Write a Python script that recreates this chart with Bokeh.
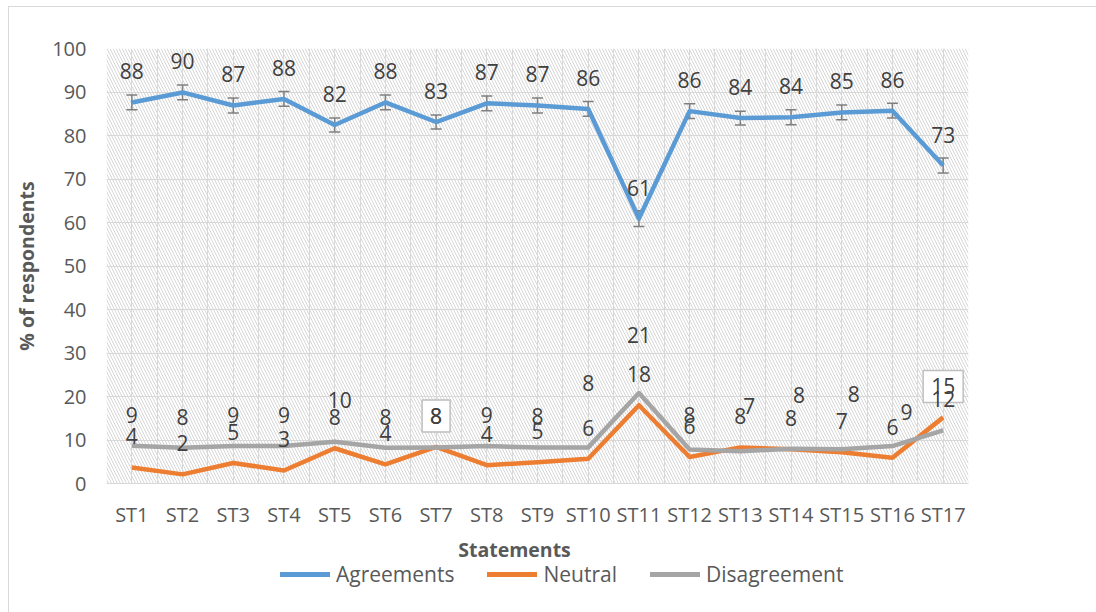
from bokeh.plotting import figure
from bokeh.layouts import column
from bokeh.models import (ColumnDataSource, Range1d, FixedTicker, Grid, Whisker, TeeHead,
                          BoxAnnotation, Legend, LegendItem, Label, CDSView, IndexFilter)
from bokeh.core.properties import value
from bokeh.embed import file_html
from bokeh.resources import INLINE

# ---------------- data ----------------
statements = ["ST1", "ST2", "ST3", "ST4", "ST5", "ST6", "ST7", "ST8", "ST9", "ST10",
              "ST11", "ST12", "ST13", "ST14", "ST15", "ST16", "ST17"]
agreements = [87.6, 89.9, 86.9, 88.4, 82.4, 87.6, 83.1, 87.4, 86.9, 86.1,
              60.9, 85.6, 84.0, 84.2, 85.3, 85.7, 73.1]
agree_err = [1.7, 1.7, 1.7, 1.7, 1.6, 1.7, 1.6, 1.7, 1.7, 1.7,
             1.8, 1.7, 1.6, 1.7, 1.7, 1.7, 1.7]
neutral = [3.7, 2.1, 4.7, 3.0, 8.1, 4.4, 8.4, 4.2, 4.9, 5.7,
           18.0, 6.1, 8.3, 7.9, 7.2, 5.9, 15.2]
disagreement = [8.7, 8.2, 8.6, 8.6, 9.6, 8.2, 8.3, 8.6, 8.3, 8.3,
                20.8, 7.8, 7.4, 8.0, 7.9, 8.6, 12.2]
series_names = ["Agreements", "Neutral", "Disagreement"]
y_ticks = [0, 10, 20, 30, 40, 50, 60, 70, 80, 90, 100]

# label nudges (style only, screen px) for the manually moved Disagreement labels
dis_label_dx = [0, 0, 0, 0, 5, 0, 0, 0, 0, 0, 0, 0, 9, 8, 12, 14, 0]
dis_label_dy = [0, 0, 0, 0, -11, 0, 0, 0, 0, -33, -27, -4, -14, -23, -24, -3, 0]

BLUE, ORANGE, GRAY = "#5B9BD5", "#ED7D31", "#A5A5A5"
COLORS = [BLUE, ORANGE, GRAY]
TXT = "#595959"
FONT = "Open Sans"
W = 1087
FRAME_W = 862  # plot-area width (both figures share the same frame columns)

xs = list(range(1, len(statements) + 1))
src = ColumnDataSource(dict(
    x=xs,
    agree=agreements,
    agree_lo=[a - e for a, e in zip(agreements, agree_err)],
    agree_hi=[a + e for a, e in zip(agreements, agree_err)],
    agree_lbl=[str(round(v)) for v in agreements],
    neutral=neutral,
    neutral_lbl=[str(round(v)) for v in neutral],
    dis=disagreement,
    dis_lbl=[str(round(v)) for v in disagreement],
    dis_dx=dis_label_dx,
    dis_dy=[d - 31 for d in dis_label_dy],
))

# ---------------- main chart ----------------
p = figure(width=W, height=523, output_backend="svg", toolbar_location=None,
           x_range=Range1d(0.5, len(statements) + 0.5), y_range=Range1d(0, 100),
           min_border_left=97, min_border_right=128, min_border_top=41, min_border_bottom=46)
p.outline_line_color = None
p.background_fill_color = "white"

# hatched plot area background
p.add_layout(BoxAnnotation(fill_alpha=0, line_color=None, hatch_pattern="\\",
                           hatch_color="#d6d6d6", hatch_scale=6, hatch_weight=1,
                           level="underlay"))

# grids
p.xgrid.visible = False
p.ygrid.ticker = FixedTicker(ticks=y_ticks)
p.ygrid.grid_line_color = "#d9d9d9"
half_steps = [0.5 + 0.5 * i for i in range(2 * len(statements) + 1)]
p.add_layout(Grid(dimension=0, ticker=FixedTicker(ticks=half_steps),
                  grid_line_color="#d9d9d9", grid_line_width=1))

# axes
p.xaxis.ticker = FixedTicker(ticks=xs)
p.xaxis.major_label_overrides = {x: s for x, s in zip(xs, statements)}
p.yaxis.ticker = FixedTicker(ticks=y_ticks)
for ax in (p.xaxis[0], p.yaxis[0]):
    ax.major_tick_line_color = None
    ax.minor_tick_line_color = None
    ax.major_tick_in = 0
    ax.major_tick_out = 0
    ax.major_label_text_font = FONT
    ax.major_label_text_font_size = "20px"
    ax.major_label_text_color = TXT
p.xaxis.axis_line_color = "#d9d9d9"
p.xaxis.major_label_standoff = 17
p.yaxis.axis_line_color = None
p.yaxis.major_label_standoff = 20
p.yaxis.axis_label = "% of respondents"
p.yaxis.axis_label_text_font = FONT
p.yaxis.axis_label_text_font_style = "bold"
p.yaxis.axis_label_text_font_size = "19.5px"
p.yaxis.axis_label_text_color = TXT
p.yaxis.axis_label_standoff = 9

# lines
p.line("x", "agree", source=src, line_color=BLUE, line_width=4.5, line_join="round")
p.line("x", "neutral", source=src, line_color=ORANGE, line_width=4.5, line_join="round")
p.line("x", "dis", source=src, line_color=GRAY, line_width=4.5, line_join="round")

# error bars on agreements
p.add_layout(Whisker(source=src, base="x", lower="agree_lo", upper="agree_hi",
                     line_color="#7f7f7f", line_width=1.5,
                     upper_head=TeeHead(size=11, line_color="#7f7f7f", line_width=1.5),
                     lower_head=TeeHead(size=11, line_color="#7f7f7f", line_width=1.5)))

# data labels
lbl_kw = dict(text_font=value(FONT), text_font_size="21px", text_color="#404040",
              text_align="center", text_baseline="middle")
p.text("x", "agree", text="agree_lbl", source=src, y_offset=-31, **lbl_kw)
plain = CDSView(filter=IndexFilter([i for i in range(len(xs)) if i not in (6, 16)]))
boxed = CDSView(filter=IndexFilter([6, 16]))
p.text("x", "neutral", text="neutral_lbl", source=src, view=plain, y_offset=-31, **lbl_kw)
p.text("x", "neutral", text="neutral_lbl", source=src, view=boxed, y_offset=-31,
       background_fill_color="white", border_line_color="#bfbfbf", border_line_width=1.5,
       padding=8, **lbl_kw)
p.text("x", "dis", text="dis_lbl", source=src, x_offset="dis_dx", y_offset="dis_dy", **lbl_kw)

# ---------------- strip below: axis title + legend (pixel coordinates of the frame) ----------------
H2 = 82
q = figure(width=W, height=H2, output_backend="svg", toolbar_location=None,
           x_range=Range1d(0, FRAME_W), y_range=Range1d(0, H2),
           x_axis_location=None, y_axis_location=None,
           min_border_left=0, min_border_right=0, min_border_top=0, min_border_bottom=0)
q.outline_line_color = None
q.xgrid.visible = False
q.ygrid.visible = False

q.add_layout(Label(x=408, y=63, text="Statements", text_font=FONT, text_font_style="bold",
                   text_font_size="19.5px", text_color=TXT, text_align="center",
                   text_baseline="middle"))

# legend proxies: style-only glyphs with a single NaN point (nothing is drawn on the canvas)
nan = float("nan")
proxies = [q.line(x=[nan], y=[nan], line_color=c, line_width=5, line_cap="round") for c in COLORS]
legend = Legend(items=[LegendItem(label=n, renderers=[r]) for n, r in zip(series_names, proxies)],
                orientation="horizontal", location=(174, 24),
                glyph_width=50, glyph_height=24, label_height=24, label_standoff=6, spacing=33,
                padding=0, margin=0, border_line_color=None, background_fill_alpha=0,
                label_text_font=FONT, label_text_font_size="21px", label_text_color=TXT)
q.add_layout(legend)

layout = column(p, q, spacing=0)
layout.styles = {"margin-left": "8px", "margin-top": "6px",
                 "border-left": "1px solid #d9d9d9", "border-top": "1px solid #d9d9d9"}

open("out.html", "w").write(file_html(layout, INLINE))
